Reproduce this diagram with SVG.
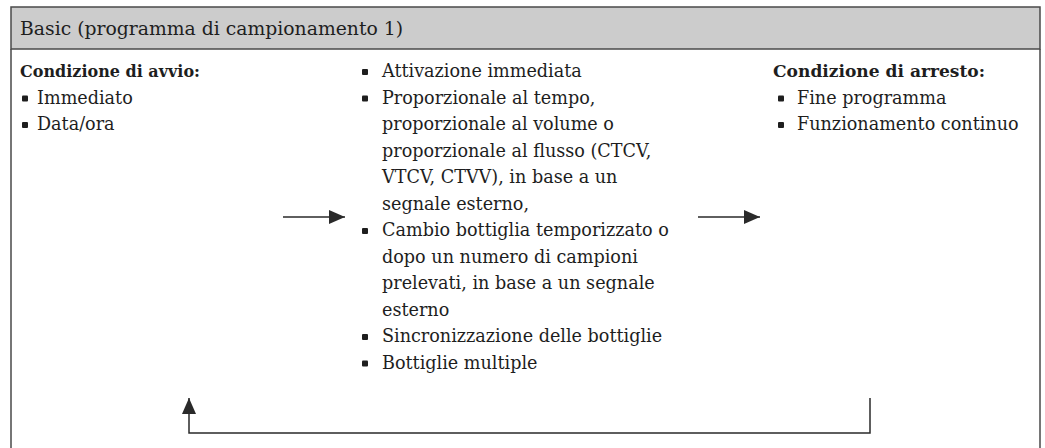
<svg xmlns="http://www.w3.org/2000/svg" width="1045" height="448" viewBox="0 0 1045 448">
<style>
  text { font-family: "DejaVu Serif", "Liberation Serif", serif; font-size: 17.6px; fill: #1e1e1e; }
  .h { font-size: 18.8px; }
  .b { font-weight: bold; font-size: 17.2px; }
  .frame { fill: none; stroke: #4a4a4a; stroke-width: 1.5; }
  .bul { fill: #1e1e1e; }
  .con { fill: none; stroke: #2a2a2a; stroke-width: 1.5; }
</style>
<defs>
  <marker id="ah" viewBox="0 0 16 14" refX="16" refY="7" markerWidth="16" markerHeight="14" markerUnits="userSpaceOnUse" orient="auto">
    <path d="M0,0 L16,7 L0,14 Z" fill="#2a2a2a"/>
  </marker>
  <rect id="bu" width="6" height="6" rx="1" class="bul"/>
</defs>
<g id="frame">
  <rect x="11" y="7" width="1029" height="42" fill="#cccccc" stroke="#4a4a4a" stroke-width="1.5"/>
  <path class="frame" d="M11,49 V448 M1040,49 V448"/>
  <text class="h" x="20" y="35">Basic (programma di campionamento 1)</text>
</g>
<g id="start">
  <text class="b" x="20" y="77" textLength="180" lengthAdjust="spacingAndGlyphs">Condizione di avvio:</text>
  <use href="#bu" x="22" y="95.5"/><text x="37" y="103.5">Immediato</text>
  <use href="#bu" x="22" y="122"/><text x="37" y="130">Data/ora</text>
</g>
<g id="actions">
  <use href="#bu" x="362" y="69"/><text x="382" y="77">Attivazione immediata</text>
  <use href="#bu" x="362" y="95.5"/><text x="382" y="103.5">Proporzionale al tempo,</text>
  <text x="382" y="130">proporzionale al volume o</text>
  <text x="382" y="156.5">proporzionale al flusso (CTCV,</text>
  <text x="382" y="183">VTCV, CTVV), in base a un</text>
  <text x="382" y="209.5">segnale esterno,</text>
  <use href="#bu" x="362" y="228"/><text x="382" y="236">Cambio bottiglia temporizzato o</text>
  <text x="382" y="262.5">dopo un numero di campioni</text>
  <text x="382" y="289">prelevati, in base a un segnale</text>
  <text x="382" y="315.5">esterno</text>
  <use href="#bu" x="362" y="334"/><text x="382" y="342">Sincronizzazione delle bottiglie</text>
  <use href="#bu" x="362" y="360.5"/><text x="382" y="368.5">Bottiglie multiple</text>
</g>
<g id="stop">
  <text class="b" x="773" y="77" textLength="212" lengthAdjust="spacingAndGlyphs">Condizione di arresto:</text>
  <use href="#bu" x="778" y="95.5"/><text x="797" y="103.5">Fine programma</text>
  <use href="#bu" x="778" y="122"/><text x="797" y="130">Funzionamento continuo</text>
</g>
<g id="connectors">
  <path class="con" d="M283,217 H345" marker-end="url(#ah)"/>
  <path class="con" d="M698,217 H760" marker-end="url(#ah)"/>
  <path class="con" d="M870,398 V433 H189 V398" marker-end="url(#ah)"/>
</g>
</svg>
